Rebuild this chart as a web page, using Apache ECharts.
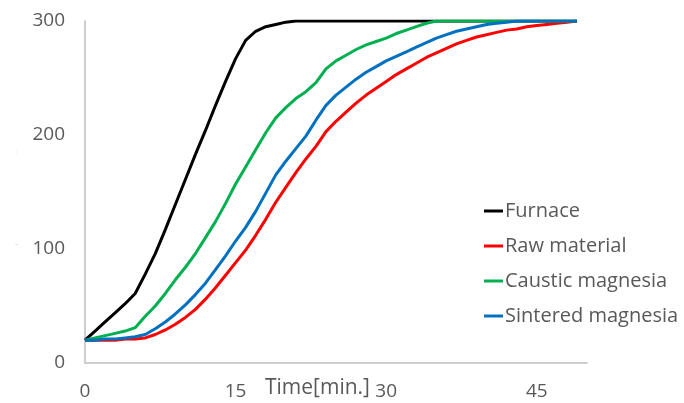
<!DOCTYPE html>
<html>
<head>
<meta charset="utf-8">
<script src="https://cdn.jsdelivr.net/npm/echarts@6/dist/echarts.min.js"></script>
<style>
  html, body { margin: 0; padding: 0; background: #fff; }
  #chart { width: 684px; height: 403px; }
</style>
</head>
<body>
<div id="chart"></div>
<script>
// time in minutes, one reading per minute
const minutes = [];
for (let i = 0; i <= 49; i++) minutes.push(i);

const furnace = [20, 28, 36, 44, 52, 61, 78, 96, 117, 139, 161, 183, 204, 226, 247, 267, 283, 291, 295, 297, 299, 300, 300, 300, 300,
  300, 300, 300, 300, 300, 300, 300, 300, 300, 300, 300, 300, 300, 300, 300, 300, 300, 300, 300, 300, 300, 300, 300, 300, 300];
const rawMaterial = [20, 20, 20, 20, 21, 21, 22, 25, 29, 34, 40, 47, 56, 66, 77, 88, 99, 112, 126, 141, 154, 167, 179, 190, 203,
  212, 220, 228, 235, 241, 247, 253, 258, 263, 268, 272, 276, 280, 283, 286, 288, 290, 292, 293, 295, 296, 297, 298, 299, 300];
const caustic = [20, 22, 24, 26, 28, 31, 41, 50, 61, 73, 84, 96, 110, 124, 140, 157, 172, 187, 202, 215, 224, 232, 238, 246, 258,
  265, 270, 275, 279, 282, 285, 289, 292, 295, 298, 300, 300, 300, 300, 300, 300, 300, 300, 300, 300, 300, 300, 300, 300, 300];
const sintered = [20, 20, 21, 21, 22, 23, 25, 30, 36, 43, 51, 60, 70, 82, 94, 107, 119, 133, 149, 165, 177, 188, 199, 213, 226,
  235, 242, 249, 255, 260, 265, 269, 273, 277, 281, 285, 288, 291, 293, 295, 297, 298, 299, 300, 300, 300, 300, 300, 300, 300];

const seriesNames = ['Furnace', 'Raw material', 'Caustic magnesia', 'Sintered magnesia'];
const seriesColors = ['#000000', '#ff0000', '#00b050', '#0070c0'];
const seriesValues = [furnace, rawMaterial, caustic, sintered];

const xTicks = [0, 15, 30, 45];
const yTicks = [0, 100, 200, 300];

const textColor = '#595959';
const fontName = '"Open Sans", sans-serif';

var myChart = echarts.init(document.getElementById('chart'));

var option = {
    animation: false,
    grid: { left: 85, right: 97, top: 21, bottom: 40 },
    legend: {
        orient: 'vertical',
        left: 479,
        top: 196,
        icon: 'rect',
        itemWidth: 19,
        itemHeight: 3,
        itemGap: 15,
        textStyle: { color: textColor, fontSize: 20, fontFamily: fontName, padding: [0, 0, 0, -3] },
        data: seriesNames
    },
    xAxis: {
        type: 'value',
        min: 0,
        max: 50,
        interval: 15,
        axisLine: { lineStyle: { color: '#bfbfbf', width: 1.5 } },
        axisTick: { show: false },
        splitLine: { show: false },
        axisLabel: {
            color: textColor, fontSize: 19, fontFamily: fontName, margin: 19,
            showMaxLabel: false,
            formatter: v => xTicks.indexOf(v) >= 0 ? String(v) : ''
        }
    },
    yAxis: {
        type: 'value',
        min: 0,
        max: 300,
        interval: 100,
        axisLine: { show: true, lineStyle: { color: '#bfbfbf', width: 1.5 } },
        axisTick: { show: false },
        splitLine: { show: false },
        axisLabel: {
            color: textColor, fontSize: 19, fontFamily: fontName, margin: 20,
            formatter: v => yTicks.indexOf(v) >= 0 ? String(v) : ''
        }
    },
    graphic: [
        {
            type: 'text', left: 265, top: 378,
            style: { text: 'Time[min.]', fill: textColor, font: '21px "Open Sans", sans-serif' }
        },
        {
            type: 'text', left: 15, top: 240,
            style: { text: '-', fill: '#d0d0d0', font: '9px sans-serif' }
        },
        {
            type: 'text', left: 15, top: 148,
            style: { text: ':', fill: '#d0d0d0', font: '8px sans-serif' }
        }
    ],
    series: seriesNames.map((name, k) => ({
        name: name,
        type: 'line',
        data: minutes.map((t, i) => [t, seriesValues[k][i]]),
        showSymbol: false,
        symbol: 'none',
        lineStyle: { color: seriesColors[k], width: 3 },
        itemStyle: { color: seriesColors[k] },
        z: 2 + k
    }))
};

myChart.setOption(option);
</script>
</body>
</html>
